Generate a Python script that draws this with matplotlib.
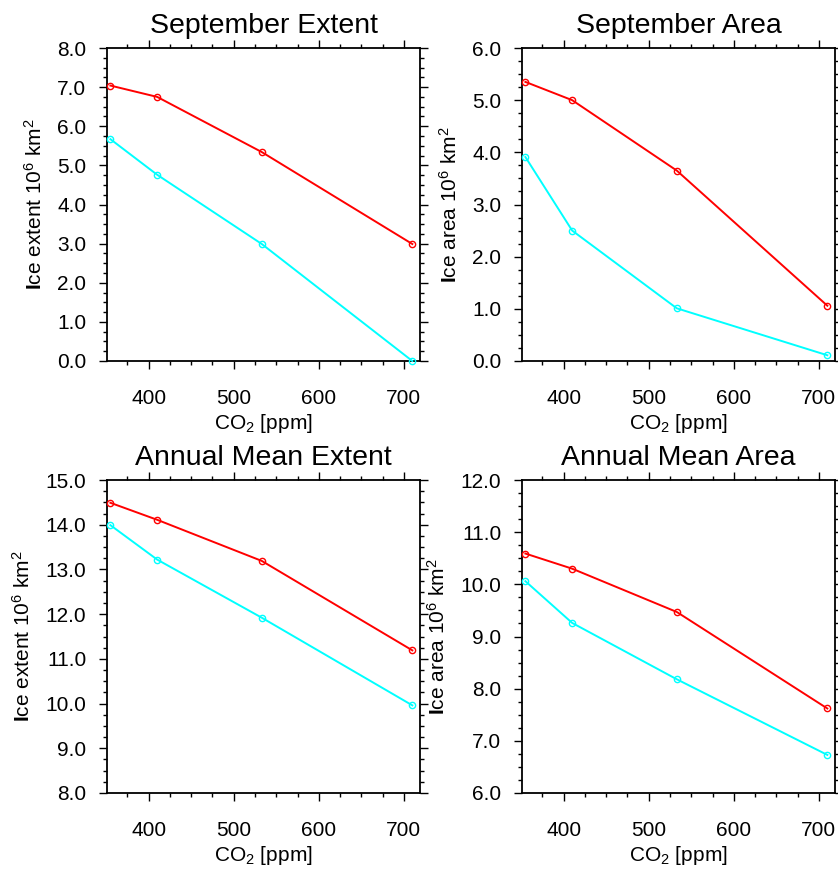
import matplotlib
matplotlib.use("Agg")
import matplotlib.pyplot as plt
from matplotlib.ticker import MultipleLocator, FormatStrFormatter

plt.rcParams['font.family'] = ['Liberation Sans', 'DejaVu Sans']
plt.rcParams['mathtext.fontset'] = 'custom'
plt.rcParams['mathtext.rm'] = 'Liberation Sans'
plt.rcParams['mathtext.it'] = 'Liberation Sans:italic'
plt.rcParams['mathtext.bf'] = 'Liberation Sans:bold'

# CO2 levels (ppm)
co2 = [355, 410, 533, 710]

# September extent
sep_ext_red = [7.04, 6.75, 5.34, 2.99]
sep_ext_cyan = [5.67, 4.76, 2.99, 0.0]

# September area
sep_area_red = [5.35, 5.0, 3.65, 1.06]
sep_area_cyan = [3.91, 2.50, 1.01, 0.11]

# Annual mean extent
ann_ext_red = [14.49, 14.11, 13.19, 11.19]
ann_ext_cyan = [13.99, 13.22, 11.92, 9.96]

# Annual mean area
ann_area_red = [10.59, 10.30, 9.47, 7.62]
ann_area_cyan = [10.06, 9.26, 8.18, 6.73]

lab_ext = r"$\mathbf{I}$ce extent 10$^6$ km$^2$"
lab_area = r"$\mathbf{I}$ce area 10$^6$ km$^2$"

panels = [
    ("September Extent", lab_ext, sep_ext_red, sep_ext_cyan, (0, 8)),
    ("September Area", lab_area, sep_area_red, sep_area_cyan, (0, 6)),
    ("Annual Mean Extent", lab_ext, ann_ext_red, ann_ext_cyan, (8, 15)),
    ("Annual Mean Area", lab_area, ann_area_red, ann_area_cyan, (6, 12)),
]

W, H = 838, 869
boxes = [(107, 48), (522, 48), (107, 480), (522, 480)]
bw, bh = 313, 313

fig = plt.figure(figsize=(W / 100, H / 100), dpi=100)

for (title, ylab, red, cyan, ylim), (x0, y0) in zip(panels, boxes):
    ax = fig.add_axes([x0 / W, 1 - (y0 + bh) / H, bw / W, bh / H])
    ax.plot(co2, red, color='#ff0000', lw=1.4, marker='o', ms=4.5,
            mfc='none', mew=1.0, clip_on=False, zorder=3)
    ax.plot(co2, cyan, color='#00ffff', lw=1.4, marker='o', ms=4.5,
            mfc='none', mew=1.0, clip_on=False, zorder=3)
    ax.set_xlim(351, 719)
    ax.set_ylim(*ylim)
    ax.xaxis.set_major_locator(MultipleLocator(100))
    ax.xaxis.set_minor_locator(MultipleLocator(25))
    ax.yaxis.set_major_locator(MultipleLocator(1))
    ax.yaxis.set_minor_locator(MultipleLocator(0.25))
    ax.yaxis.set_major_formatter(FormatStrFormatter('%.1f'))
    ax.tick_params(which='both', direction='out', top=True, right=True,
                   width=1.0, labelsize=15)
    ax.tick_params(which='major', length=6)
    ax.tick_params(which='minor', length=3)
    ax.tick_params(axis='y', which='major', pad=9)
    ax.tick_params(axis='x', which='major', pad=14)
    for s in ax.spines.values():
        s.set_linewidth(1.3)
    ax.set_title(title, fontsize=20.5, pad=11)
    ax.set_xlabel("CO$_2$ [ppm]", fontsize=15, labelpad=3)
    ax.set_ylabel(ylab, fontsize=15, labelpad=8)

fig.savefig("out.png", dpi=100)
